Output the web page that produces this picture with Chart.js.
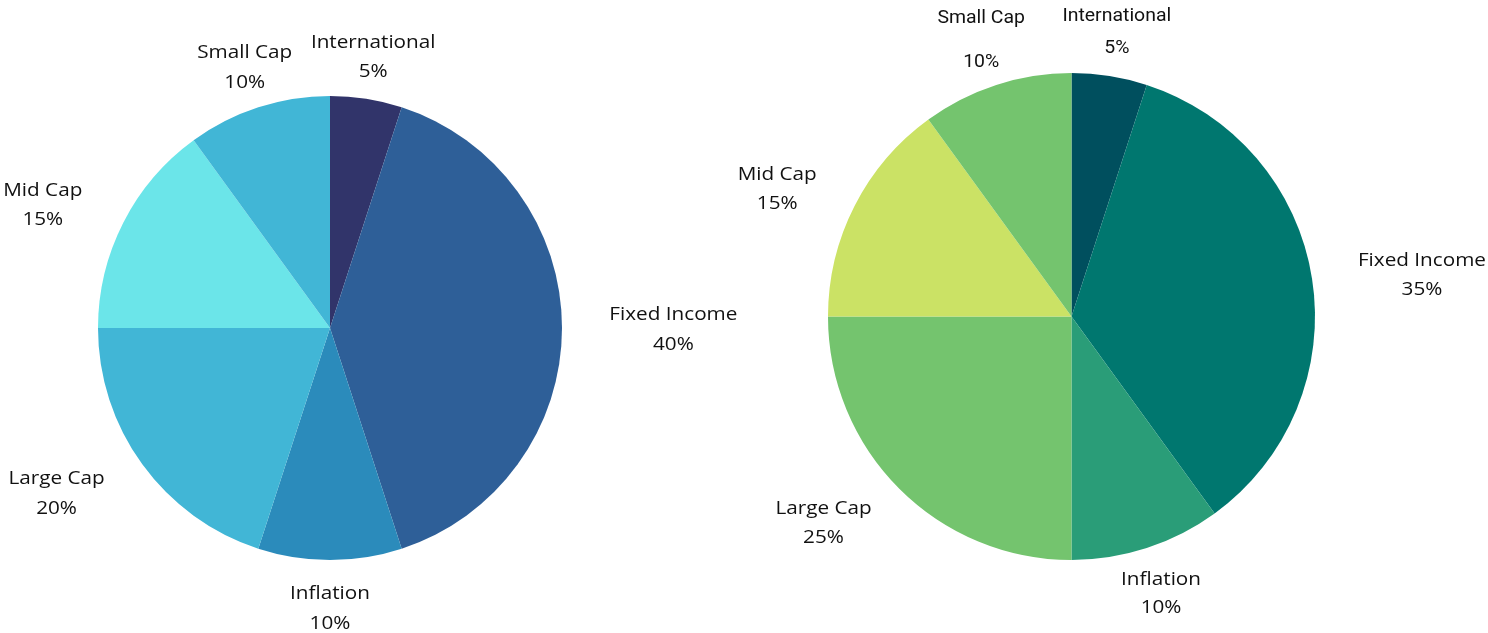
<!DOCTYPE html>
<html lang="en">
<head>
  <meta charset="UTF-8" />
  <title>Portfolio Allocation</title>
  <script src="https://cdn.jsdelivr.net/npm/chart.js"></script>
  <style>
    html, body { margin: 0; padding: 0; background: #fff; }
    .wrap { position: relative; width: 1488px; height: 633px; overflow: hidden; }
    canvas { position: absolute; top: 0; }
  </style>
</head>
<body>
  <div class="wrap">
    <canvas id="leftPie" width="744" height="633" style="left:0"></canvas>
    <canvas id="rightPie" width="788" height="633" style="left:700px"></canvas>
  </div>

  <script>
    // data
    const categories = ['International', 'Fixed Income', 'Inflation', 'Large Cap', 'Mid Cap', 'Small Cap'];
    const leftValues = [5, 40, 10, 20, 15, 10];
    const rightValues = [5, 35, 10, 25, 15, 10];

    const leftColors = ['#31346a', '#2e5f98', '#2b8bbb', '#41b6d6', '#6be5e9', '#41b6d6'];
    const rightColors = ['#004f5e', '#00776f', '#2a9d78', '#74c46e', '#cbe265', '#74c46e'];

    // label placement: distance as multiple of radius, angle nudge (deg), gap between lines
    const leftLabelDist = [1.19, 1.48, 1.20, 1.375, 1.35, 1.19];
    const leftLabelNudge = [0, 0, 0, 5, -3.5, 0];
    const leftLabelGap = [29, 30, 30, 30, 29, 30];
    const rightLabelDist = [1.19, 1.45, 1.19, 1.32, 1.32, 1.2];
    const rightLabelNudge = [0, 2, 0, 5.5, -3.3, 0];
    const rightLabelGap = [32, 29, 28, 29, 29, 44];

    // font + horizontal stretch to match the wide Excel text
    const wideFont = { font: '18px "Open Sans"', sx: 1.15 };
    const narrowFont = { font: '18px Roboto', sx: 1.08 };

    function outsideLabels(dist, nudge, gap, fonts) {
      return {
        id: 'outsideLabels',
        afterDatasetsDraw(chart) {
          const ctx = chart.ctx;
          const meta = chart.getDatasetMeta(0);
          const values = chart.data.datasets[0].data;
          const total = values.reduce((a, b) => a + b, 0);
          meta.data.forEach((arc, i) => {
            const mid = (arc.startAngle + arc.endAngle) / 2 + nudge[i] * Math.PI / 180;
            const r = arc.outerRadius * dist[i];
            const x = arc.x + Math.cos(mid) * r;
            const y = arc.y + Math.sin(mid) * r + 2;
            const pct = Math.round(values[i] / total * 100) + '%';
            ctx.save();
            ctx.fillStyle = '#111';
            ctx.textAlign = 'center';
            ctx.textBaseline = 'middle';
            ctx.font = fonts[i].font;
            ctx.translate(x, y);
            ctx.scale(fonts[i].sx, 1);
            ctx.fillText(chart.data.labels[i], 0, -gap[i] / 2);
            ctx.fillText(pct, 0, gap[i] / 2);
            ctx.restore();
          });
        }
      };
    }

    function makePie(id, values, colors, padding, plugin) {
      return new Chart(document.getElementById(id), {
        type: 'pie',
        data: {
          labels: categories,
          datasets: [{
            data: values,
            backgroundColor: colors,
            borderWidth: 0
          }]
        },
        options: {
          responsive: false,
          animation: false,
          layout: { padding: padding },
          plugins: {
            legend: { display: false },
            tooltip: { enabled: false }
          }
        },
        plugins: [plugin]
      });
    }

    const leftFonts = categories.map(() => wideFont);
    const rightFonts = categories.map((c, i) => (i === 0 || i === 5) ? narrowFont : wideFont);

    makePie('leftPie', leftValues, leftColors,
      { left: 98, top: 96, right: 182, bottom: 73 },
      outsideLabels(leftLabelDist, leftLabelNudge, leftLabelGap, leftFonts));

    makePie('rightPie', rightValues, rightColors,
      { left: 128, top: 73, right: 173, bottom: 73 },
      outsideLabels(rightLabelDist, rightLabelNudge, rightLabelGap, rightFonts));
  </script>
</body>
</html>
